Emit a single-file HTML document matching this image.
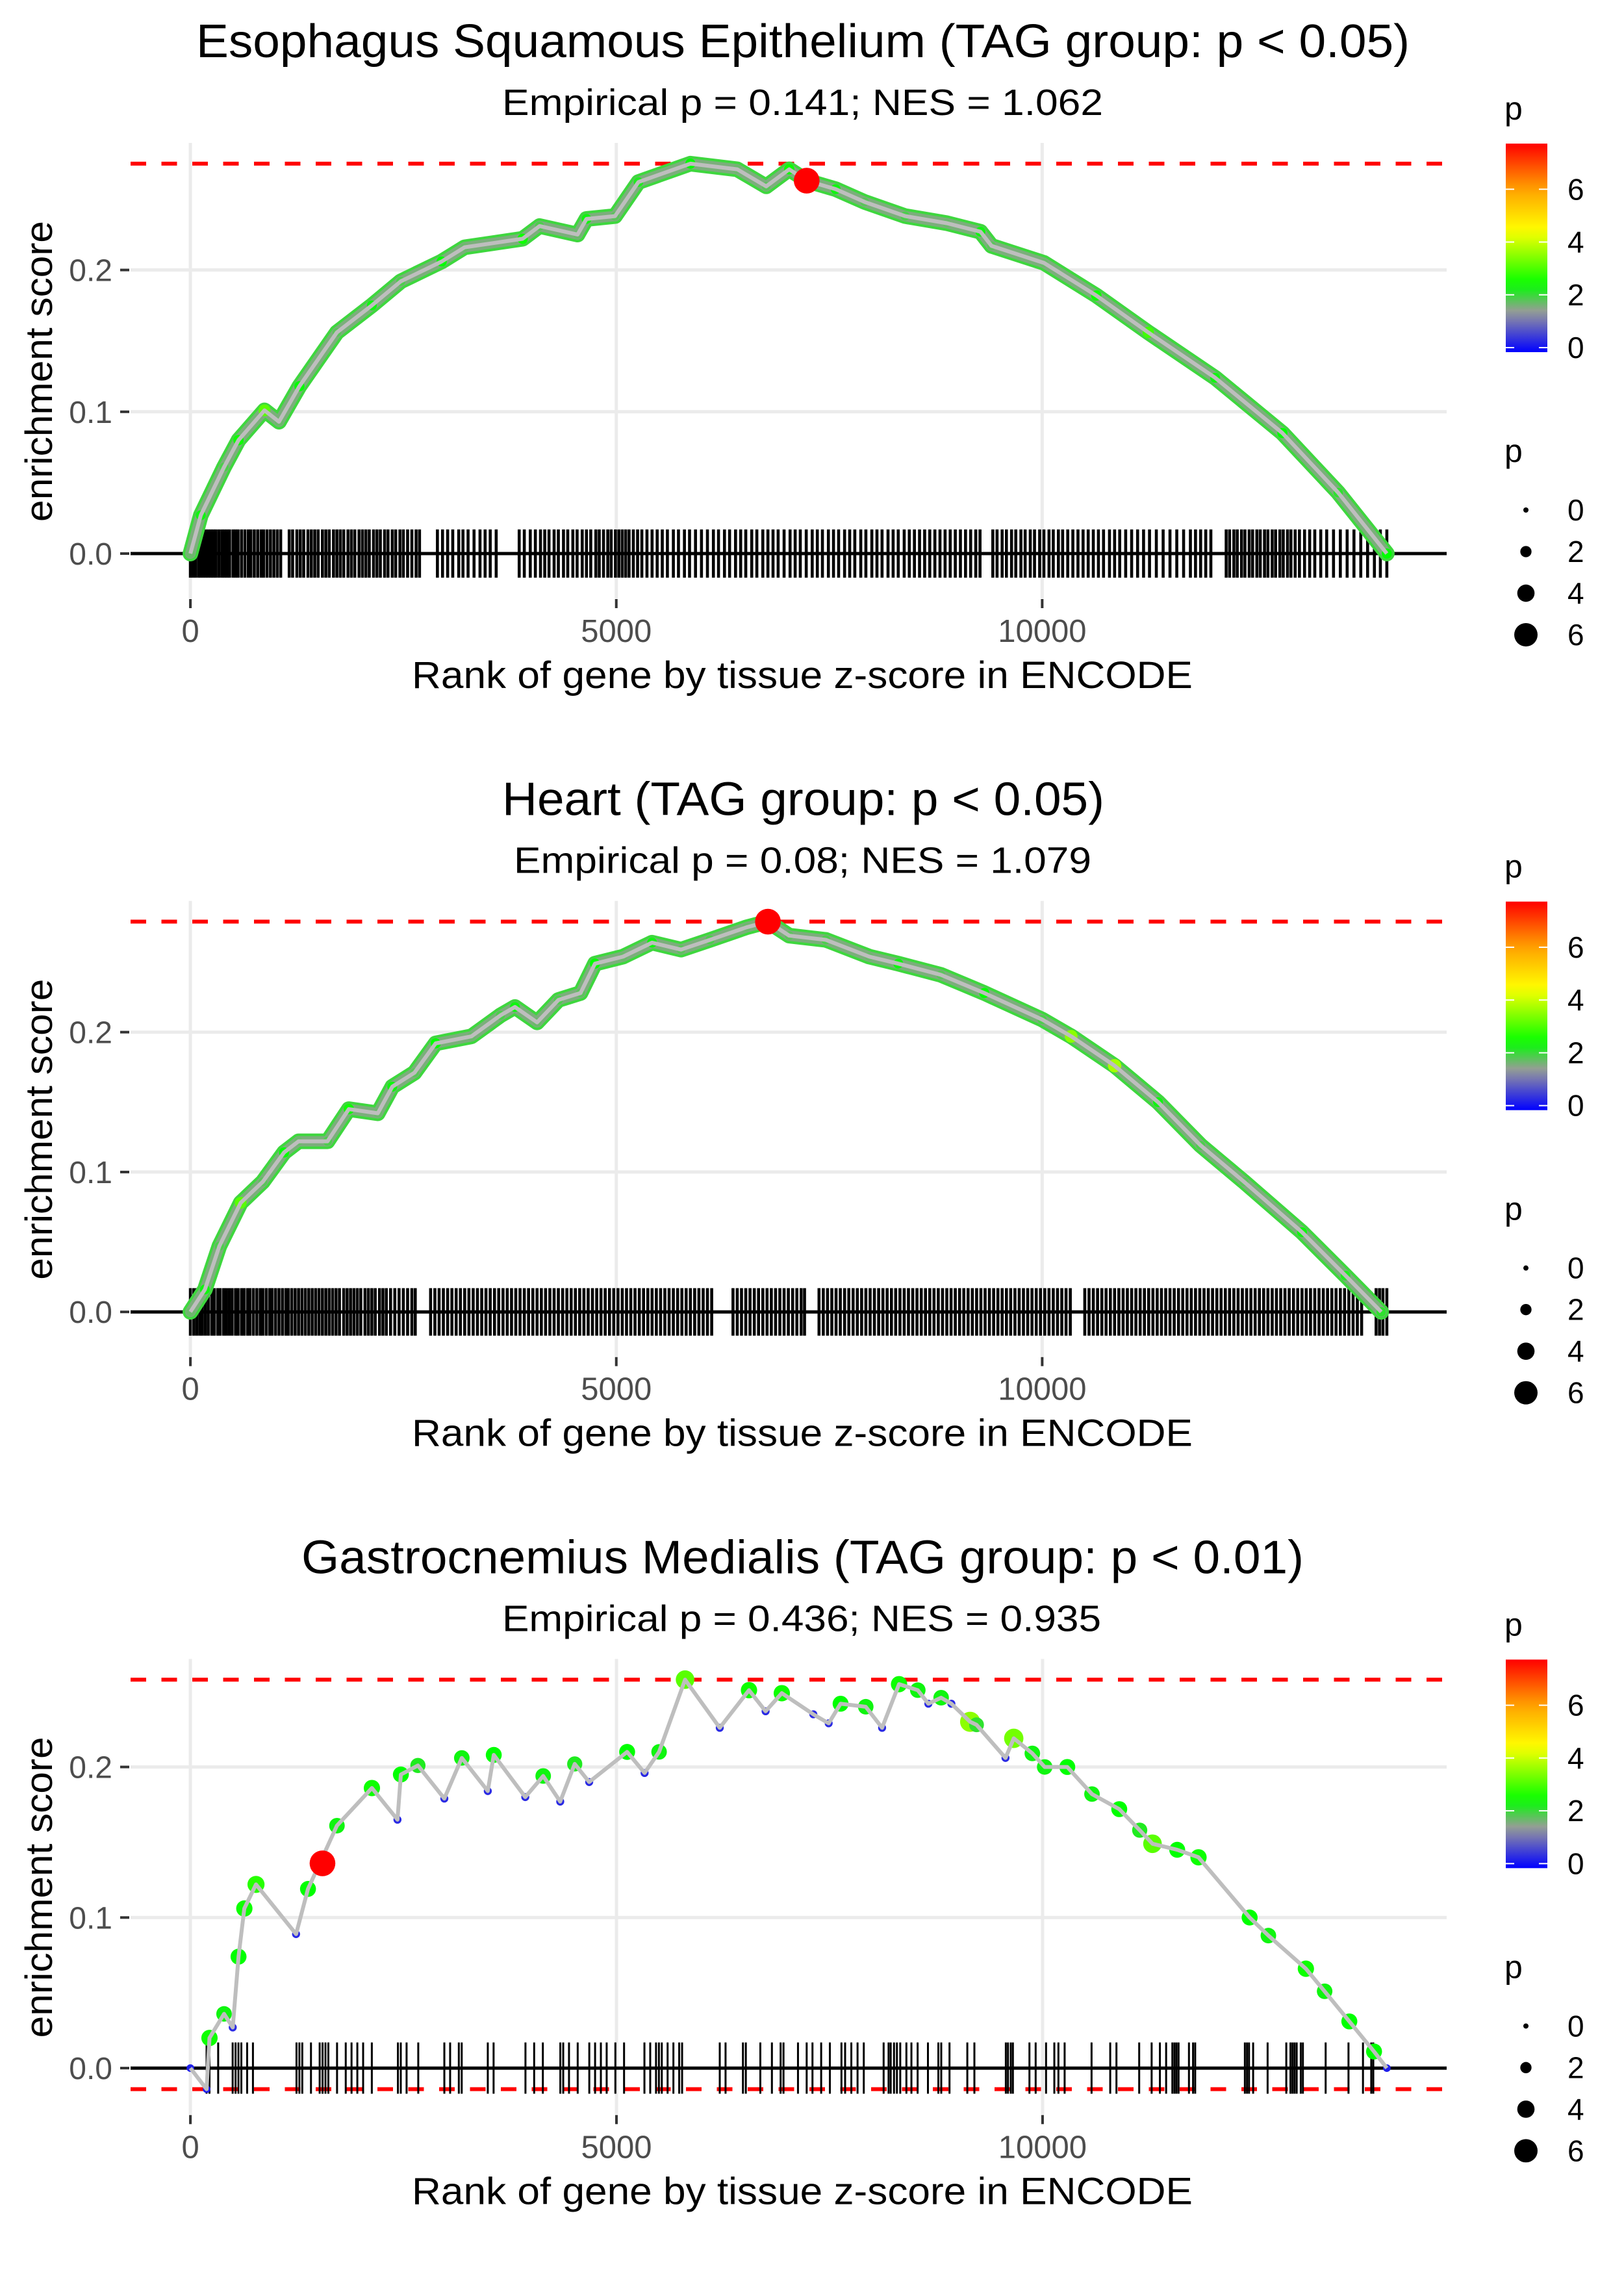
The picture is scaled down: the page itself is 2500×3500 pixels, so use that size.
<!DOCTYPE html>
<html>
<head>
<meta charset="utf-8">
<style>
html,body{margin:0;padding:0;background:#fff;}
svg{display:block;}
text{font-family:"Liberation Sans",Arial,sans-serif;}
</style>
</head>
<body>
<svg id="chart" width="2500" height="3500" viewBox="0 0 2500 3500" xmlns="http://www.w3.org/2000/svg">
<rect x="0" y="0" width="2500" height="3500" fill="#ffffff"/>
</svg>
<script>
// ---------- data ----------
const titles = ["Esophagus Squamous Epithelium (TAG group: p < 0.05)", "Heart (TAG group: p < 0.05)", "Gastrocnemius Medialis (TAG group: p < 0.01)"];
const subtitles = ["Empirical p = 0.141; NES = 1.062", "Empirical p = 0.08; NES = 1.079", "Empirical p = 0.436; NES = 0.935"];
const xTickValues = [0, 5000, 10000];
const xTickLabels = ["0", "5000", "10000"];
const yTickValues = [0, 0.1, 0.2];
const yTickLabels = ["0.0", "0.1", "0.2"];
const legendColorTicks = [0, 2, 4, 6];
const legendSizeTicks = [0, 2, 4, 6];
const legendMaxP = 7.73;

const p1Rank = [0,122,395,565,870,1040,1280,1720,2130,2470,2950,3220,3900,4100,4545,4650,4985,5260,5870,6420,6760,7030,7235,7575,7915,8390,8880,9275,9405,10020,10635,11245,12030,12820,13475,14046];
const p1ES = [0,0.027,0.061,0.080,0.101,0.093,0.118,0.156,0.175,0.192,0.206,0.216,0.222,0.231,0.225,0.236,0.238,0.262,0.275,0.271,0.259,0.271,0.263,0.257,0.248,0.238,0.233,0.227,0.217,0.205,0.182,0.156,0.124,0.085,0.043,0];
const p1P = [1.8,2.4,2.0,2.6,3.2,1.8,2.5,1.9,2.4,2.0,2.5,1.8,2.6,2.0,1.8,2.4,1.9,2.3,2.5,1.8,1.9,2.6,1.8,2.4,1.9,2.0,1.8,2.4,1.9,1.8,2.6,3.0,2.4,2.5,2.2,2.5];
const p1Best = [7235, 0.263, 7.73];
const p1Hits = [0,30,60,95,120,150,180,210,240,270,300,335,370,400,430,460,500,530,560,600,640,680,710,750,790,830,860,900,940,980,1020,1060,1160,1200,1250,1290,1330,1380,1420,1460,1500,1550,1590,1630,1680,1720,1760,1800,1850,1890,1930,1980,2020,2060,2100,2150,2190,2230,2280,2320,2370,2410,2460,2500,2550,2600,2650,2690,2900,2960,3020,3080,3150,3200,3260,3330,3400,3460,3520,3590,3860,3920,3990,4050,4110,4160,4210,4270,4320,4380,4430,4490,4540,4600,4650,4700,4760,4800,4850,4900,4940,4990,5030,5070,5110,5150,5200,5250,5300,5360,5420,5480,5540,5600,5670,5730,5800,5860,5930,6000,6070,6140,6200,6270,6330,6400,6460,6520,6590,6650,6720,6780,6840,6900,6970,7040,7100,7160,7230,7300,7360,7420,7490,7550,7610,7680,7740,7800,7870,7930,8000,8060,8120,8190,8250,8310,8380,8440,8500,8560,8620,8680,8740,8800,8860,8920,8980,9040,9100,9160,9220,9270,9420,9470,9530,9580,9640,9690,9750,9800,9860,9910,9970,10020,10080,10130,10190,10240,10300,10360,10420,10480,10540,10600,10660,10720,10790,10850,10910,10980,11050,11120,11190,11260,11340,11420,11500,11580,11660,11740,11800,11860,11920,11980,12160,12200,12250,12290,12340,12380,12430,12470,12520,12560,12610,12650,12700,12740,12790,12830,12880,12920,12970,13020,13080,13140,13200,13270,13340,13420,13500,13580,13660,13740,13820,13900,13970,14046];

const p2Rank = [0,170,340,590,850,1100,1270,1610,1860,2200,2370,2630,2880,3300,3640,3810,4070,4320,4580,4750,5080,5420,5760,6100,6530,6780,7030,7460,7970,8310,8810,9320,10000,10340,10850,11360,11860,12370,13050,13560,13980];
const p2ES = [0,0.016,0.047,0.078,0.093,0.114,0.122,0.122,0.145,0.142,0.161,0.171,0.192,0.197,0.212,0.218,0.207,0.223,0.228,0.249,0.254,0.264,0.259,0.266,0.275,0.279,0.269,0.266,0.254,0.249,0.241,0.228,0.209,0.197,0.176,0.150,0.119,0.093,0.057,0.026,0];
const p2P = [1.8,2.4,2.0,3.2,1.9,2.5,1.8,2.0,2.6,1.8,2.4,1.9,2.5,1.8,2.0,2.4,1.8,2.0,1.9,2.5,1.8,2.4,1.9,2.0,1.8,7.73,1.9,2.0,1.8,2.4,1.9,2.5,2.0,3.6,3.8,2.4,2.0,1.9,2.4,2.3,2.2];
const p2Best = [6780, 0.279, 7.73];
const p2Hits = [0,40,75,110,140,175,210,250,280,320,350,390,420,455,490,530,560,600,630,670,700,740,780,820,850,890,930,960,1000,1040,1080,1120,1150,1190,1230,1270,1310,1350,1390,1430,1470,1510,1550,1590,1630,1670,1710,1750,1800,1840,1880,1920,1960,2000,2050,2090,2130,2170,2220,2260,2300,2350,2400,2450,2500,2550,2600,2640,2820,2870,2920,2970,3020,3070,3120,3170,3220,3270,3320,3370,3420,3470,3520,3570,3620,3670,3720,3770,3820,3870,3920,3970,4020,4070,4120,4170,4220,4270,4320,4370,4420,4470,4520,4570,4620,4670,4720,4770,4820,4870,4920,4970,5020,5070,5120,5170,5220,5270,5320,5370,5420,5470,5520,5570,5620,5670,5720,5770,5820,5870,5920,5970,6020,6070,6120,6370,6420,6470,6520,6570,6620,6670,6720,6770,6820,6870,6920,6970,7020,7070,7120,7170,7210,7380,7430,7480,7530,7580,7630,7680,7730,7780,7830,7880,7930,7980,8030,8080,8130,8180,8230,8280,8330,8380,8430,8480,8530,8580,8630,8680,8730,8780,8830,8880,8930,8980,9030,9080,9130,9180,9230,9280,9330,9380,9430,9480,9530,9580,9630,9680,9730,9780,9830,9880,9930,9980,10030,10080,10130,10180,10230,10280,10330,10500,10550,10600,10650,10700,10750,10800,10850,10900,10950,11000,11050,11100,11150,11200,11250,11300,11350,11400,11450,11500,11550,11600,11650,11700,11750,11800,11850,11900,11950,12000,12050,12100,12150,12200,12250,12300,12350,12400,12450,12500,12550,12600,12650,12700,12750,12800,12850,12900,12950,13000,13050,13100,13150,13200,13250,13300,13350,13400,13450,13500,13550,13600,13650,13700,13750,13920,13960,14000,14046];

const p3Rank = [0,190,224,395,497,565,633,770,1240,1380,1720,2130,2430,2470,2670,2980,3185,3490,3560,3930,4140,4340,4510,4680,5125,5330,5500,5805,6212,6555,6750,6940,7310,7490,7630,7925,8117,8316,8536,8660,8810,8930,9150,9225,9565,9662,9880,10025,10290,10580,10900,11140,11290,11580,11830,12430,12650,13090,13310,13600,13890,14040];
const p3ES = [0,-0.014,0.02,0.036,0.027,0.074,0.106,0.122,0.089,0.119,0.161,0.186,0.165,0.195,0.201,0.179,0.206,0.184,0.208,0.180,0.194,0.177,0.202,0.190,0.210,0.196,0.210,0.258,0.226,0.251,0.237,0.249,0.235,0.229,0.242,0.240,0.226,0.255,0.251,0.242,0.246,0.242,0.230,0.228,0.206,0.219,0.209,0.200,0.200,0.182,0.172,0.158,0.149,0.145,0.140,0.100,0.088,0.066,0.051,0.031,0.011,0];
const p3P = [0.3,0.3,2.6,2.4,0.4,2.5,2.6,2.8,0.4,2.5,2.4,2.6,0.4,2.5,2.3,0.4,2.4,0.4,2.5,0.4,2.4,0.4,2.3,0.4,2.5,0.4,2.4,3.2,0.4,2.6,0.4,2.6,0.4,0.4,2.5,2.4,0.4,2.6,2.4,0.4,2.4,0.4,3.6,2.2,0.4,3.4,2.4,2.4,2.5,2.4,2.5,2.3,3.2,2.5,2.6,2.5,2.4,2.6,2.4,2.5,2.5,0.3];
const p3Best = [1550, 0.136, 7.73];
const p3Hits = [190,224,326,496,530,564,598,666,734,1245,1279,1313,1415,1517,1551,1585,1619,1721,1823,1891,1959,2027,2129,2435,2469,2537,2674,2980,3048,3150,3184,3490,3558,3932,4034,4136,4341,4375,4443,4545,4681,4749,4817,4885,4987,5089,5328,5396,5464,5498,5532,5600,5668,5736,5770,6212,6280,6484,6518,6688,6824,6926,6960,7130,7232,7300,7402,7504,7640,7683,7756,7829,7902,8135,8193,8218,8257,8291,8330,8402,8461,8534,8655,8777,8811,8908,9117,9200,9569,9594,9627,9652,9846,9919,10041,10138,10186,10259,10575,10794,10867,11134,11280,11377,11450,11523,11548,11572,11596,11718,11766,11791,12374,12399,12423,12471,12641,12860,12909,12933,12957,12982,13030,13055,13322,13590,13760,13857,13881];

// ---------- rendering ----------
const NS = "http://www.w3.org/2000/svg";
const svg = document.getElementById("chart");
const PANEL_H = 3500 / 3;
const PL = 201, PR = 2227, PT = 220, PB = 921;
const RUG_HALF = 0.017;
const titleBox = [[302, 1868], [773, 927], [464, 1543]];
const subBox = [[773, 925], [791, 889], [773, 922]];

function mk(tag, attrs, parent) {
  const el = document.createElementNS(NS, tag);
  for (const k in attrs) el.setAttribute(k, attrs[k]);
  (parent || svg).appendChild(el);
  return el;
}
function pColor(p) {
  const stops = [[0,[0,0,255]],[1.5,[154,154,154]],[2.5,[0,255,0]],[4.5,[255,255,0]],[6.0,[255,165,0]],[7.73,[255,0,0]]];
  if (p <= stops[0][0]) return "rgb(0,0,255)";
  for (let i = 1; i < stops.length; i++) {
    if (p <= stops[i][0]) {
      const t = (p - stops[i-1][0]) / (stops[i][0] - stops[i-1][0]);
      const a = stops[i-1][1], b = stops[i][1];
      return "rgb(" + a.map((v, j) => Math.round(v + (b[j] - v) * t)).join(",") + ")";
    }
  }
  return "rgb(255,0,0)";
}
function pRadius(p) { return 4 + p * 2.33; }

const panels = [
  {rank: p1Rank, es: p1ES, p: p1P, best: p1Best, hits: p1Hits, band: true, lowerLine: false},
  {rank: p2Rank, es: p2ES, p: p2P, best: p2Best, hits: p2Hits, band: true, lowerLine: false},
  {rank: p3Rank, es: p3ES, p: p3P, best: p3Best, hits: p3Hits, band: false, lowerLine: true}
];

panels.forEach((pd, i) => {
  const oy = i * PANEL_H;
  const g = mk("g", {transform: "translate(0," + oy.toFixed(2) + ")"});
  
  

  const xMaxData = Math.max(Math.max(...pd.rank), Math.max(...pd.hits));
  const xMinData = Math.min(0, Math.min(...pd.rank));
  const xr = xMaxData - xMinData;
  const x0 = xMinData - 0.05 * xr, x1 = xMaxData + 0.05 * xr;
  const esMax = Math.max(...pd.es, pd.best[1]);
  const esMin = Math.min(...pd.es);
  const lo = Math.min(esMin, -RUG_HALF), hi = Math.max(esMax, RUG_HALF);
  const yr = hi - lo;
  const y0 = lo - 0.05 * yr, y1 = hi + 0.05 * yr;
  const X = v => PL + (v - x0) / (x1 - x0) * (PR - PL);
  const Y = v => PB - (v - y0) / (y1 - y0) * (PB - PT);

  // titles
  const t = mk("text", {x: titleBox[i][0], y: 88, "font-size": 72, fill: "#000", textLength: titleBox[i][1], lengthAdjust: "spacingAndGlyphs"}, g);
  t.textContent = titles[i];
  
  
  const st = mk("text", {x: subBox[i][0], y: 177, "font-size": 57, fill: "#000", textLength: subBox[i][1], lengthAdjust: "spacingAndGlyphs"}, g);
  st.textContent = subtitles[i];
  
  

  // gridlines
  yTickValues.forEach((v, k) => {
    const gl = mk("line", {x1: PL, x2: PR, y1: Y(v), y2: Y(v), stroke: "#ebebeb", "stroke-width": 5}, g);
    
    
    const tk = mk("line", {x1: 185, x2: 199, y1: Y(v), y2: Y(v), stroke: "#333", "stroke-width": 4}, g);
    
    
    const tl = mk("text", {x: 173, y: Y(v) + 17, "font-size": 48, "text-anchor": "end", fill: "#4d4d4d"}, g);
    tl.textContent = yTickLabels[k];
    
    
  });
  xTickValues.forEach((v, k) => {
    const gl = mk("line", {x1: X(v), x2: X(v), y1: PT, y2: PB, stroke: "#ebebeb", "stroke-width": 5}, g);
    
    
    const tk = mk("line", {x1: X(v), x2: X(v), y1: PB + 1, y2: PB + 15, stroke: "#333", "stroke-width": 4}, g);
    
    
    const tl = mk("text", {x: X(v), y: 988, "font-size": 49, "text-anchor": "middle", fill: "#4d4d4d"}, g);
    tl.textContent = xTickLabels[k];
    
    
  });

  // reference lines
  const dl = mk("line", {x1: PL, x2: PR, y1: Y(esMax), y2: Y(esMax), stroke: "#ff0000", "stroke-width": 6, "stroke-dasharray": "24 23.5"}, g);
  
  
  if (pd.lowerLine) {
    const dl2 = mk("line", {x1: PL, x2: PR, y1: Y(esMin), y2: Y(esMin), stroke: "#ff0000", "stroke-width": 6, "stroke-dasharray": "24 23.5"}, g);
    
    
  }

  // rug
  const rug = mk("g", {}, g);
  
  
  pd.hits.forEach(h => {
    const rl = mk("line", {x1: X(h), x2: X(h), y1: Y(RUG_HALF), y2: Y(-RUG_HALF), stroke: "#000", "stroke-width": pd.band ? 4.6 : 3}, rug);
    
    
  });
  const zl = mk("line", {x1: PL, x2: PR, y1: Y(0), y2: Y(0), stroke: "#000", "stroke-width": 5}, g);
  
  

  // curve
  const pts = pd.rank.map((r, k) => X(r).toFixed(1) + "," + Y(pd.es[k]).toFixed(1)).join(" ");
  if (pd.band) {
    const band = mk("polyline", {points: pts, fill: "none", stroke: pColor(2.1), "stroke-width": 24, "stroke-linejoin": "round", "stroke-linecap": "round"}, g);
    
    
    const band2 = mk("polyline", {points: pts, fill: "none", stroke: pColor(1.7), "stroke-width": 16, "stroke-linejoin": "round", "stroke-linecap": "round"}, g);
    
    
  }
  const pts2 = mk("g", {}, g);
  
  
  pd.rank.forEach((r, k) => {
    const c = mk("circle", {cx: X(r), cy: Y(pd.es[k]), r: pRadius(pd.p[k]) * (pd.band ? 0.8 : 1.25), fill: pColor(pd.p[k])}, pts2);
    
    
  });
  const line = mk("polyline", {points: pts, fill: "none", stroke: "#bebebe", "stroke-width": 6, "stroke-linejoin": "round"}, g);
  
  
  const bp = mk("circle", {cx: X(pd.best[0]), cy: Y(pd.best[1]), r: pRadius(pd.best[2]) * 0.9, fill: pColor(pd.best[2])}, g);
  
  

  // axis titles
  const xt = mk("text", {x: 634, y: 1059, "font-size": 58, fill: "#000", textLength: 1202, lengthAdjust: "spacingAndGlyphs"}, g);
  xt.textContent = "Rank of gene by tissue z-score in ENCODE";
  
  
  const yt = mk("text", {x: 0, y: 0, "font-size": 58, fill: "#000", transform: "translate(80,803) rotate(-90)", textLength: 463, lengthAdjust: "spacingAndGlyphs"}, g);
  yt.textContent = "enrichment score";
  
  

  // colour legend
  const lg = mk("g", {}, g);
  
  
  const lt = mk("text", {x: 2316, y: 184, "font-size": 50, fill: "#000"}, lg);
  lt.textContent = "p";
  
  
  const CB_T = 221, CB_B = 542;
  const gradId = "grad" + i;
  const defs = mk("defs", {}, lg);
  const grad = mk("linearGradient", {id: gradId, x1: 0, y1: 1, x2: 0, y2: 0}, defs);
  for (let s = 0; s <= 20; s++) {
    const v = legendMaxP * s / 20;
    mk("stop", {offset: (s / 20).toFixed(3), "stop-color": pColor(v)}, grad);
  }
  const cb = mk("rect", {x: 2318, y: CB_T, width: 64, height: CB_B - CB_T, fill: "url(#" + gradId + ")"}, lg);
  
  
  const CY = v => CB_B - 7 - v / legendMaxP * (CB_B - 7 - CB_T);
  legendColorTicks.forEach(v => {
    mk("line", {x1: 2318, x2: 2331, y1: CY(v), y2: CY(v), stroke: "#fff", "stroke-width": 2}, lg);
    mk("line", {x1: 2369, x2: 2382, y1: CY(v), y2: CY(v), stroke: "#fff", "stroke-width": 2}, lg);
    const l = mk("text", {x: 2413, y: CY(v) + 16, "font-size": 46, fill: "#000"}, lg);
    l.textContent = String(v);
    
    
  });

  // size legend
  const sg = mk("g", {}, g);
  
  
  const slt = mk("text", {x: 2316, y: 711, "font-size": 50, fill: "#000"}, sg);
  slt.textContent = "p";
  
  
  legendSizeTicks.forEach((v, k) => {
    const cy = 785 + k * 64;
    const c = mk("circle", {cx: 2349, cy: cy, r: pRadius(v), fill: "#000"}, sg);
    
    
    const l = mk("text", {x: 2413, y: cy + 16, "font-size": 46, fill: "#000"}, sg);
    l.textContent = String(v);
    
    
  });
});
</script>
</body>
</html>
